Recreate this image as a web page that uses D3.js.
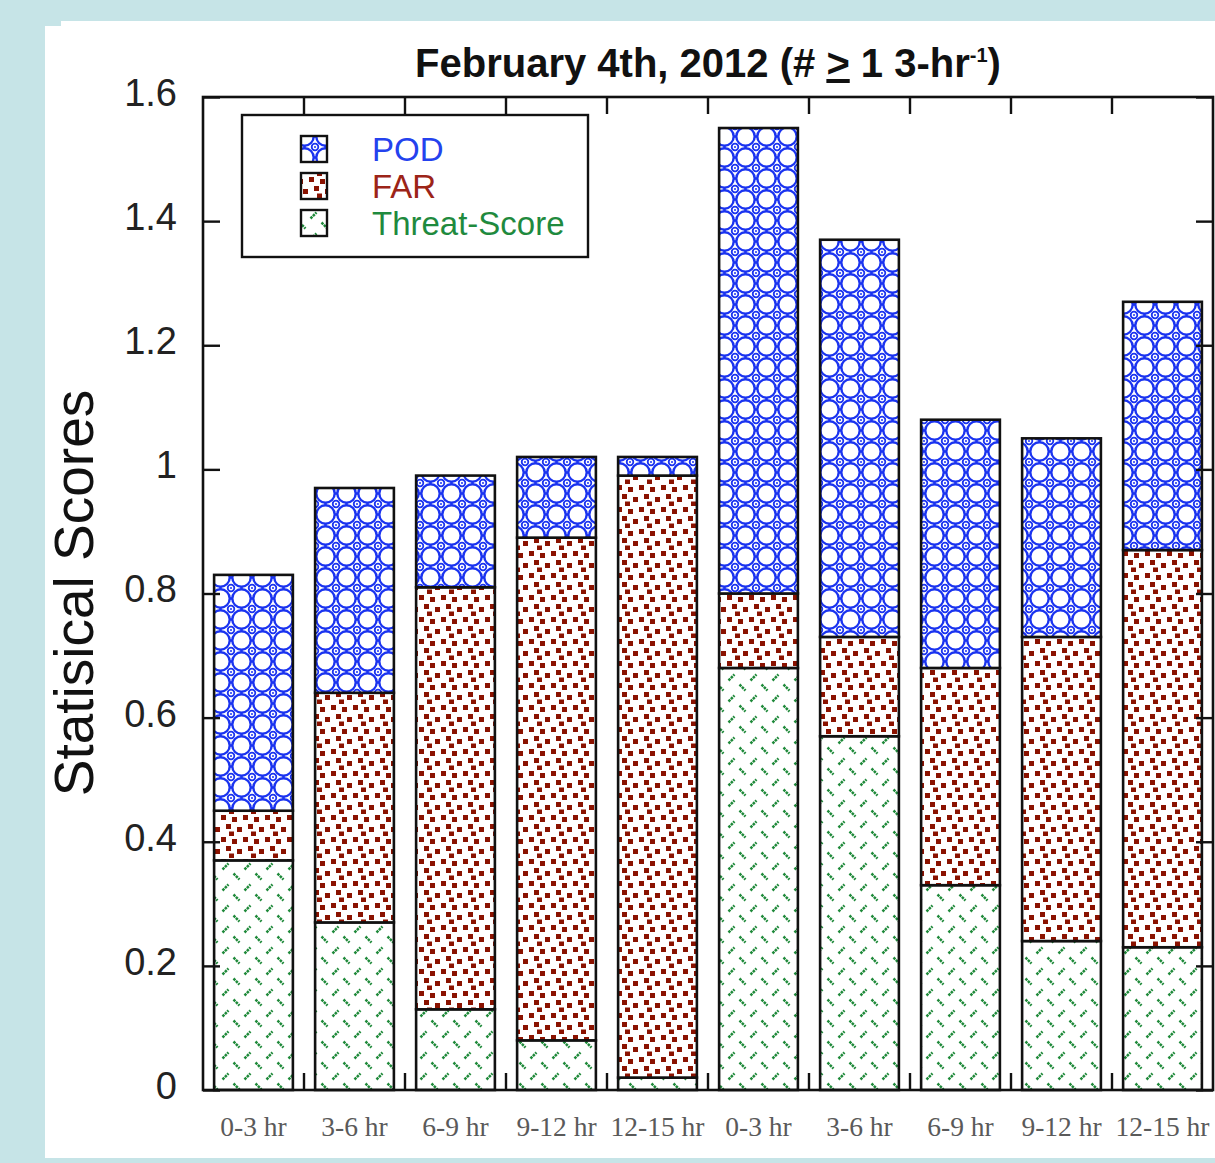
<!DOCTYPE html>
<html>
<head>
<meta charset="utf-8">
<script src="https://cdn.jsdelivr.net/npm/d3@7"></script>
<style>
  html, body { margin: 0; padding: 0; background: #c6e4e7; }
  svg { display: block; }
</style>
</head>
<body>
<svg id="chart" width="1215" height="1163"></svg>
<script>
// Forecast windows (two runs of five 3-hour windows)
const categories = ["0-3 hr", "3-6 hr", "6-9 hr", "9-12 hr", "12-15 hr",
                    "0-3 hr", "3-6 hr", "6-9 hr", "9-12 hr", "12-15 hr"];
// Stacked segment values, bottom to top
const threatScore = [0.37, 0.27, 0.13, 0.08, 0.02, 0.68, 0.57, 0.33, 0.24, 0.23];
const farValues   = [0.08, 0.37, 0.68, 0.81, 0.97, 0.12, 0.16, 0.35, 0.49, 0.64];
const podValues   = [0.38, 0.33, 0.18, 0.13, 0.03, 0.75, 0.64, 0.40, 0.32, 0.40];
const yTicks = [0, 0.2, 0.4, 0.6, 0.8, 1, 1.2, 1.4, 1.6];
const seriesNames = ["Threat-Score", "FAR", "POD"];
const legendOrder = ["POD", "FAR", "Threat-Score"];

const W = 1215, H = 1163;
const plot = { left: 203, right: 1213, top: 97, bottom: 1090 };

const svg = d3.select("#chart");

// ---- fill patterns ----
const defs = svg.append("defs");

const blue = "#1a33f0", red = "#8a1200", green = "#1f8a3a";

// circles on a square lattice with small rings at the lattice nodes
const pPod = defs.append("pattern").attr("id", "pat-pod")
  .attr("patternUnits", "userSpaceOnUse").attr("width", 21).attr("height", 21);
pPod.append("rect").attr("width", 21).attr("height", 21).attr("fill", "#fff");
pPod.append("circle").attr("cx", 10.5).attr("cy", 10.5).attr("r", 9.2)
  .attr("fill", "none").attr("stroke", blue).attr("stroke-width", 2.4);
[[10.5, 0, 10.5, 1.6], [10.5, 19.4, 10.5, 21], [0, 10.5, 1.6, 10.5], [19.4, 10.5, 21, 10.5]]
  .forEach(([x1, y1, x2, y2]) => pPod.append("line")
    .attr("x1", x1).attr("y1", y1).attr("x2", x2).attr("y2", y2)
    .attr("stroke", blue).attr("stroke-width", 2.4));
[[0, 0], [21, 0], [0, 21], [21, 21]].forEach(([cx, cy]) => {
  pPod.append("circle").attr("cx", cx).attr("cy", cy).attr("r", 3.3)
    .attr("fill", "#fff").attr("stroke", blue).attr("stroke-width", 1.8);
  pPod.append("circle").attr("cx", cx).attr("cy", cy).attr("r", 1).attr("fill", blue);
});

// scattered small squares
const pFar = defs.append("pattern").attr("id", "pat-far")
  .attr("patternUnits", "userSpaceOnUse").attr("width", 22).attr("height", 22);
pFar.append("rect").attr("width", 22).attr("height", 22).attr("fill", "#fff");
[[1, 1], [12, 3], [6, 10], [17, 13], [9, 17.5]].forEach(([x, y]) =>
  pFar.append("rect").attr("x", x).attr("y", y).attr("width", 5).attr("height", 5).attr("fill", red));

// alternating short diagonal dashes
const pTs = defs.append("pattern").attr("id", "pat-ts")
  .attr("patternUnits", "userSpaceOnUse").attr("width", 22).attr("height", 21);
pTs.append("rect").attr("width", 22).attr("height", 21).attr("fill", "#fff");
pTs.append("line").attr("x1", 2.5).attr("y1", 8.5).attr("x2", 8.5).attr("y2", 2.5)
  .attr("stroke", green).attr("stroke-width", 2.5).attr("stroke-dasharray", "2.6 0.8");
pTs.append("line").attr("x1", 13.5).attr("y1", 12.5).attr("x2", 19.5).attr("y2", 18.5)
  .attr("stroke", green).attr("stroke-width", 2.5).attr("stroke-dasharray", "2.6 0.8");

const fills = { "POD": "url(#pat-pod)", "FAR": "url(#pat-far)", "Threat-Score": "url(#pat-ts)" };
const textColors = { "POD": "#2442ee", "FAR": "#9c2418", "Threat-Score": "#1f8a3e" };

// ---- white panel ----
svg.append("path")
  .attr("d", `M61,21 H${W} V1158 H45 V26 H61 Z`)
  .attr("fill", "#fff");

// ---- scales ----
const idx = d3.range(categories.length);
const x = d3.scaleBand().domain(idx).range([plot.left, plot.right])
  .paddingInner(0.22).paddingOuter(0.11);
const y = d3.scaleLinear().domain([0, 1.6]).range([plot.bottom, plot.top]);

// ---- stacked bars ----
const rows = idx.map(i => ({ i, "Threat-Score": threatScore[i], "FAR": farValues[i], "POD": podValues[i] }));
const stacked = d3.stack().keys(seriesNames)(rows);

const gBars = svg.append("g");
stacked.forEach(layer => {
  gBars.append("g").selectAll("rect").data(layer).join("rect")
    .attr("x", d => x(d.data.i))
    .attr("y", d => y(d[1]))
    .attr("width", x.bandwidth())
    .attr("height", d => y(d[0]) - y(d[1]))
    .attr("fill", fills[layer.key])
    .attr("stroke", "#111").attr("stroke-width", 2.6);
});

// ---- frame and ticks ----
const tickLen = 17;
const gFrame = svg.append("g");
// category separators, inward on top and bottom
const seps = idx.slice(1).map(i => x(i) - x.step() * x.paddingInner() / 2);
seps.forEach(sx => {
  gFrame.append("line").attr("x1", sx).attr("x2", sx).attr("y1", plot.top).attr("y2", plot.top + tickLen)
    .attr("stroke", "#111").attr("stroke-width", 2.4);
  gFrame.append("line").attr("x1", sx).attr("x2", sx).attr("y1", plot.bottom).attr("y2", plot.bottom - tickLen)
    .attr("stroke", "#111").attr("stroke-width", 2.4);
});

// left axis with inward ticks
const yAxis = d3.axisLeft(y).tickValues(yTicks).tickFormat(d3.format("~g"))
  .tickSizeInner(-tickLen).tickSizeOuter(0).tickPadding(26);
const gY = svg.append("g").attr("transform", `translate(${plot.left},0)`).call(yAxis);
gY.select(".domain").remove();
gY.selectAll(".tick line").attr("stroke", "#111").attr("stroke-width", 2.4);
gY.selectAll(".tick text")
  .attr("font-family", "Liberation Sans, Arial, sans-serif")
  .attr("font-size", 38).attr("fill", "#222").attr("dy", "0.22em");

// right axis ticks (no labels)
const yAxisR = d3.axisRight(y).tickValues(yTicks).tickFormat("")
  .tickSizeInner(-tickLen).tickSizeOuter(0);
const gYR = svg.append("g").attr("transform", `translate(${plot.right},0)`).call(yAxisR);
gYR.select(".domain").remove();
gYR.selectAll(".tick line").attr("stroke", "#111").attr("stroke-width", 2.4);

gFrame.append("rect")
  .attr("x", plot.left).attr("y", plot.top)
  .attr("width", plot.right - plot.left).attr("height", plot.bottom - plot.top)
  .attr("fill", "none").attr("stroke", "#111").attr("stroke-width", 2.6);

// bottom category labels
const xAxis = d3.axisBottom(x).tickFormat(i => categories[i]).tickSize(0).tickPadding(26);
const gX = svg.append("g").attr("transform", `translate(0,${plot.bottom})`).call(xAxis);
gX.select(".domain").remove();
gX.selectAll(".tick text")
  .attr("font-family", "Liberation Serif, Times New Roman, serif")
  .attr("font-size", 27.5).attr("fill", "#5a5a5a");

// ---- legend ----
const lg = svg.append("g");
lg.append("rect").attr("x", 242).attr("y", 115).attr("width", 346).attr("height", 142)
  .attr("fill", "#fff").attr("stroke", "#111").attr("stroke-width", 2.4);
legendOrder.forEach((name, k) => {
  const cy = 149 + k * 37;
  lg.append("rect").attr("x", 301).attr("y", cy - 13).attr("width", 26).attr("height", 26)
    .attr("fill", fills[name]).attr("stroke", "#111").attr("stroke-width", 2.4);
  lg.append("text").attr("x", 372).attr("y", cy).attr("dy", "0.36em")
    .attr("font-family", "Liberation Sans, Arial, sans-serif").attr("font-size", 33)
    .attr("fill", textColors[name]).text(name);
});

// ---- title ----
const title = svg.append("text").attr("x", 708).attr("y", 77).attr("text-anchor", "middle")
  .attr("font-family", "Liberation Sans, Arial, sans-serif").attr("font-weight", "bold")
  .attr("font-size", 40).attr("fill", "#111");
title.append("tspan").text("February 4th, 2012 (# ");
title.append("tspan").attr("text-decoration", "underline").text(">");
title.append("tspan").text(" 1 3-hr");
title.append("tspan").attr("dy", -15).attr("font-size", 20).text("-1");
title.append("tspan").attr("dy", 15).text(")");

// ---- y-axis title ----
svg.append("text")
  .attr("transform", "translate(93,593) rotate(-90)")
  .attr("text-anchor", "middle")
  .attr("font-family", "Liberation Sans, Arial, sans-serif")
  .attr("font-size", 55).attr("fill", "#111")
  .text("Statisical Scores");
</script>
</body>
</html>
